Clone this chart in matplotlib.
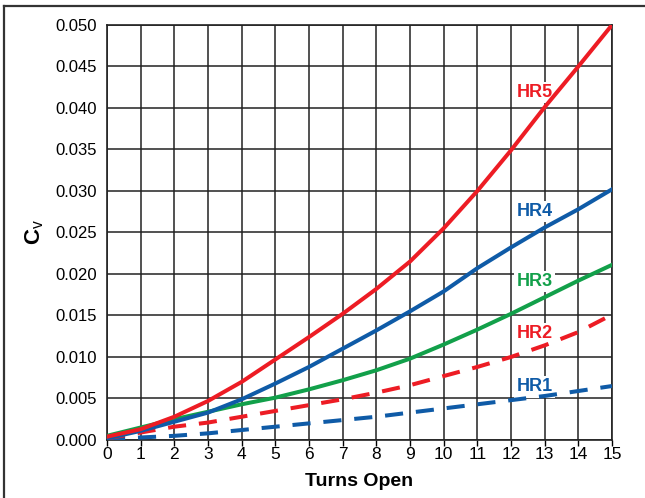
import matplotlib
matplotlib.use('Agg')
import matplotlib.pyplot as plt
from matplotlib.lines import Line2D

plt.rcParams['font.family'] = ['Liberation Sans', 'DejaVu Sans']
plt.rcParams['mathtext.fontset'] = 'custom'
plt.rcParams['mathtext.rm'] = 'Liberation Sans'
plt.rcParams['mathtext.bf'] = 'Liberation Sans:bold'

turns = [0, 1, 2, 3, 4, 5, 6, 7, 8, 9, 10, 11, 12, 13, 14, 15]

hr5 = [0.0004, 0.0013, 0.0028, 0.0047, 0.0070, 0.0097, 0.0124, 0.0152,
       0.0182, 0.0215, 0.0255, 0.0300, 0.0349, 0.0401, 0.0450, 0.0500]
hr4 = [0.0002, 0.0011, 0.0022, 0.0033, 0.0049, 0.0068, 0.0088, 0.0110,
       0.0132, 0.0155, 0.0179, 0.0207, 0.0232, 0.0256, 0.0278, 0.0302]
hr3 = [0.0005, 0.0015, 0.0025, 0.0034, 0.0043, 0.0051, 0.0061, 0.0072,
       0.0084, 0.0098, 0.0115, 0.0133, 0.0152, 0.0172, 0.0192, 0.0211]
hr2 = [0.0002, 0.0009, 0.0016, 0.0021, 0.0028, 0.0035, 0.0042, 0.0049,
       0.0057, 0.0066, 0.0077, 0.0088, 0.0100, 0.0114, 0.0130, 0.0151]
hr1 = [0.0001, 0.0003, 0.0005, 0.0008, 0.0012, 0.0016, 0.0020, 0.0024,
       0.0028, 0.0033, 0.0038, 0.0043, 0.0048, 0.0053, 0.0059, 0.0065]

labels = ['HR5', 'HR4', 'HR3', 'HR2', 'HR1']
label_pos = [(12.7, 0.0419), (12.7, 0.0275), (12.7, 0.0191),
             (12.7, 0.0128), (12.7, 0.0064)]

red = '#ED1C24'
blue = '#0F5BA7'
green = '#12A04A'

fig = plt.figure(figsize=(6.45, 4.98), dpi=100)
ax = fig.add_axes([0.1659, 0.1165, 0.7829, 0.8333])

dash = (0, (4.5, 3.2))
ax.plot(turns, hr1, color=blue, lw=2.9, linestyle=dash, zorder=3)
ax.plot(turns, hr2, color=red, lw=2.9, linestyle=dash, zorder=3)
ax.plot(turns, hr3, color=green, lw=2.9, zorder=3)
ax.plot(turns, hr4, color=blue, lw=2.9, zorder=4)
ax.plot(turns, hr5, color=red, lw=2.9, zorder=5)

label_colors = [red, blue, green, red, blue]
for name, (lx, ly), c in zip(labels, label_pos, label_colors):
    ax.text(lx, ly, name, color=c, fontsize=13, fontweight='bold',
            ha='center', va='center', zorder=1.5,
            bbox=dict(facecolor='white', edgecolor='none', pad=1.5))

ax.set_xlim(0, 15)
ax.set_ylim(0, 0.050)
ax.set_xticks(range(0, 16))
ax.set_yticks([i * 0.005 for i in range(11)])
ax.set_yticklabels(['%.3f' % (i * 0.005) for i in range(11)])
ax.tick_params(axis='x', direction='out', length=4, width=1, pad=1,
               labelsize=12.5)
ax.tick_params(axis='y', length=0, pad=7, labelsize=12)

ax.set_axisbelow(True)
ax.grid(True, color='#222222', lw=1.1)
for s in ax.spines.values():
    s.set_linewidth(1.2)
    s.set_color('#222222')

ax.set_xlabel('Turns Open', fontsize=14, fontweight='bold', labelpad=8)
ax.set_ylabel(r'$\mathbf{C}_\mathrm{v}$', fontsize=16, labelpad=7)

# outer frame
fig.add_artist(Line2D([4 / 645, 4 / 645], [0, 1 - 6 / 498],
                      transform=fig.transFigure, color='#333333', lw=1.6))
fig.add_artist(Line2D([4 / 645, 1], [1 - 6 / 498, 1 - 6 / 498],
                      transform=fig.transFigure, color='#333333', lw=1.6))

fig.savefig('out.png', dpi=100)
